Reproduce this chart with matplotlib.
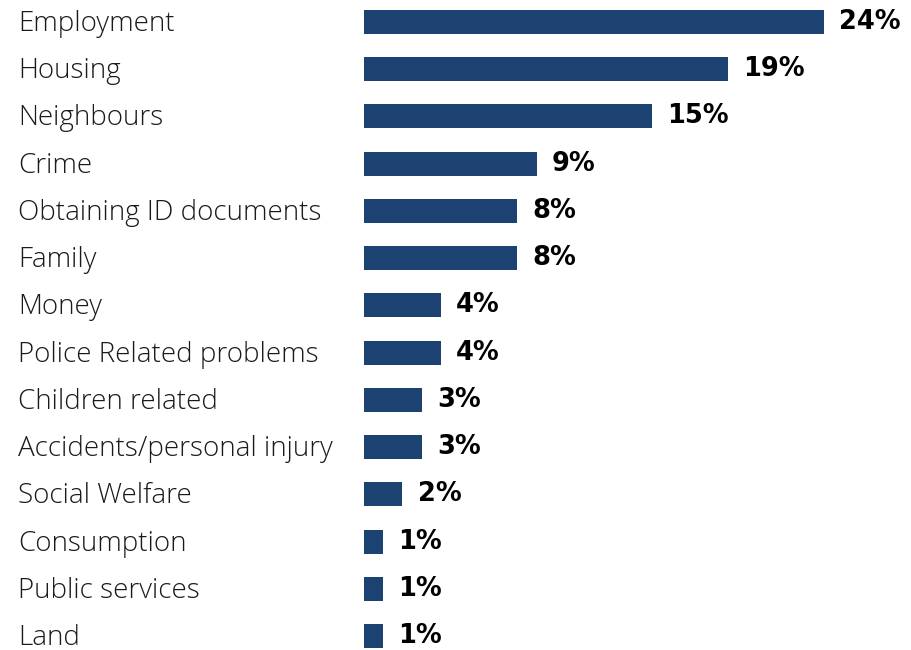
import matplotlib
matplotlib.use("Agg")
import matplotlib.pyplot as plt
from matplotlib import transforms

categories = ["Employment", "Housing", "Neighbours", "Crime", "Obtaining ID documents",
              "Family", "Money", "Police Related problems", "Children related",
              "Accidents/personal injury", "Social Welfare", "Consumption",
              "Public services", "Land"]
values = [24, 19, 15, 9, 8, 8, 4, 4, 3, 3, 2, 1, 1, 1]

W, H, DPI = 911, 650, 100
fig = plt.figure(figsize=(W / DPI, H / DPI), dpi=DPI)
fig.patch.set_facecolor("white")

left_px = 364
ax = fig.add_axes([left_px / W, 0, 1 - left_px / W, 1])
ax.set_axis_off()

px_per_unit = (824 - 364) / 24.0
row_px = (636 - 22) / 13.0
ax.set_xlim(0, (W - left_px) / px_per_unit)
ax.set_ylim((H - 22) / row_px, -22 / row_px)

ypos = list(range(len(categories)))
ax.barh(ypos, values, height=24 / row_px, color="#1c4272", linewidth=0)

label_trans = transforms.blended_transform_factory(fig.transFigure, ax.transData)
label_shift = transforms.offset_copy(label_trans, fig=fig, x=0, y=-2, units="dots")
for y, cat, v in zip(ypos, categories, values):
    ax.text(18 / W, y, cat, transform=label_shift, ha="left", va="center",
            fontsize=20, family="Open Sans", fontweight="light", color="#1a1a1a")
    ax.annotate(f"{v}%", xy=(v, y), xytext=(11, 0), textcoords="offset points",
                ha="left", va="center", fontsize=18.5, family="DejaVu Sans",
                fontweight="bold", color="#000000")

fig.savefig("out.png", dpi=DPI)
